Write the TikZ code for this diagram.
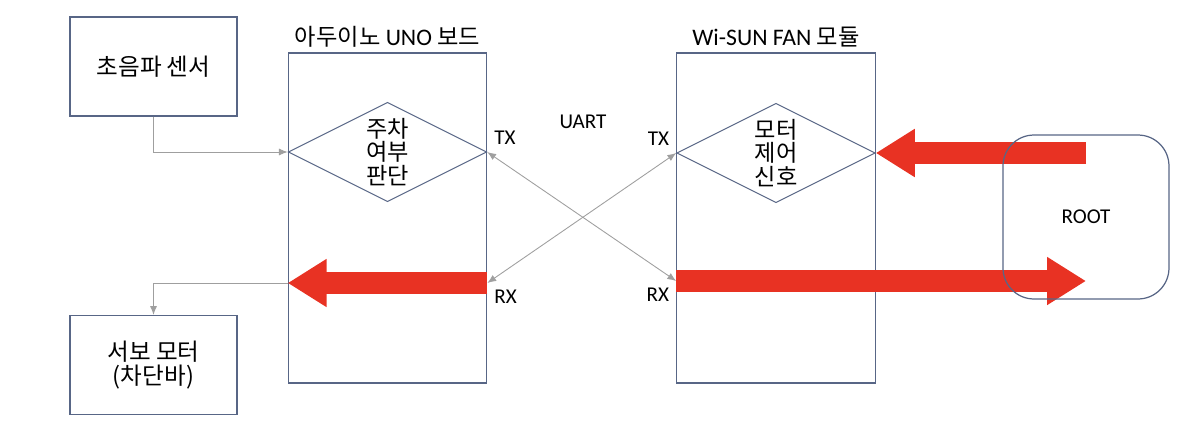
\documentclass[tikz,border=0pt]{standalone}
\usepackage{fontspec}
\setmainfont{Carlito}
\newfontfamily\kr[Scale=1.1]{Noto Sans CJK KR}
\newfontfamily\krt[Scale=0.98]{Noto Sans CJK KR}
\usetikzlibrary{shapes.geometric, positioning, arrows.meta}
\definecolor{boxline}{RGB}{88,102,134}
\definecolor{sigred}{RGB}{232,50,35}
\tikzset{
block/.style={draw=boxline, line width=0.7pt, minimum width=3.34cm, minimum height=1.98cm, align=center, font=\kr\fontsize{12.2}{13.8}\selectfont}, % outer boxes
board/.style={draw=boxline, line width=0.7pt, minimum width=3.97cm, minimum height=6.6cm}, % the two boards
decide/.style={diamond, draw=boxline, line width=0.6pt, inner sep=0pt, aspect=2, minimum width=3.97cm, minimum height=1.99cm, align=center, font=\kr\fontsize{12}{13.3}\selectfont}, % diamonds
title/.style={inner sep=1pt, font=\fontsize{13.5}{15}\selectfont}, % text above the boards
port/.style={inner sep=1pt}, % TX / RX labels
wire/.style={draw=gray!75, line width=0.5pt, -{Latex[length=5pt, width=4pt]}}, % thin connectors
bigarrow/.style={draw=sigred, line width=0.44cm, -{Triangle[length=0.78cm, width=0.91cm, fill=sigred]}}, % red block arrows
}

\begin{document}
\begin{tikzpicture}[x=0.02cm, y=-0.02cm, font=\fontsize{12}{14}\selectfont]
\useasboundingbox (0,0) rectangle (1198,444);

\node[block] at (153.5, 66.5) (sensor) {초음파 센서};
\node[block] at (153.5, 365) (servo) {서보 모터\\(차단바)};

\node[board] at (387.5, 218) (uno) {};
\node[board] at (776, 218) (wisun) {};
\node[title, above=0.06cm of uno] (unotitle) {{\krt 아두이노} UNO {\krt 보드}};
\node[title, above=0.06cm of wisun] (wisuntitle) {Wi-SUN FAN {\krt 모듈}};

\node[decide] at (387.5, 152) (judge) {주차\\여부\\판단};
\node[decide] at (776, 153) (ctrl) {모터\\제어\\신호};

\coordinate (rxA) at (uno.east |- 0,283);
\coordinate (rxW) at (wisun.west |- 0,281);
\coordinate (rootin) at (1086, 281);
\coordinate (rootout) at (1086, 153);

% red arrows
\draw[bigarrow] (rxA) -- (uno.west |- rxA);
\draw[bigarrow] (rootout) -- (ctrl.east);
\draw[bigarrow] (rxW) -- (rootin);

\node[draw=boxline, line width=0.7pt, rounded corners=0.62cm, minimum width=3.32cm, minimum height=3.28cm] at (1086, 217) (root) {ROOT};

% thin connectors
\draw[wire] (sensor.south) |- (judge.west);
\draw[wire] (uno.west |- rxA) -| (servo.north);
\draw[wire, {Latex[length=5pt, width=4pt]}-{Latex[length=5pt, width=4pt]}] (judge.east) -- (rxW);
\draw[wire, {Latex[length=5pt, width=4pt]}-{Latex[length=5pt, width=4pt]}] (ctrl.west) -- (rxA);

\node[port, above right=0.1cm and 0.1cm of judge.east] (txAl) {TX};
\node[port, below right=0.1cm and 0.1cm of rxA] (rxAl) {RX};
\node[port, above left=0.1cm and 0.1cm of ctrl.west] (txWl) {TX};
\node[port, below left=0.1cm and 0.1cm of rxW] (rxWl) {RX};
\node at (583, 122) (uart) {UART};

\end{tikzpicture}
\end{document}
